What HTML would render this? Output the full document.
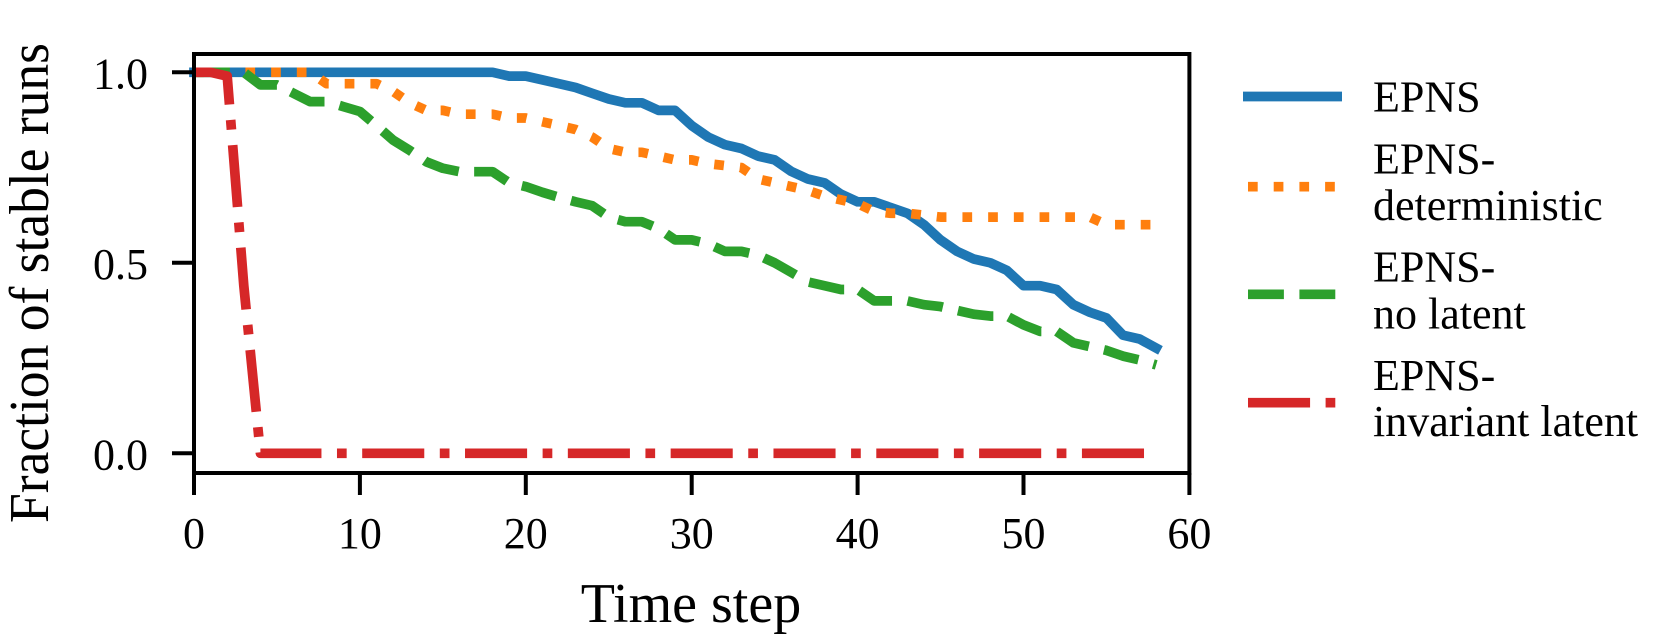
<!DOCTYPE html>
<html><head><meta charset="utf-8"><style>
html,body{margin:0;padding:0;background:#fff}
svg{display:block}
text{font-family:"Liberation Serif",serif;fill:#000}
</style></head><body>
<svg width="1663" height="641" viewBox="0 0 1663 641" id="chart">
<g id="plot"></g>
<g id="axes"></g>
<text x="691" y="622" font-size="56" text-anchor="middle">Time step</text>
<text transform="translate(48,283) rotate(-90)" font-size="56" text-anchor="middle" textLength="480" lengthAdjust="spacingAndGlyphs">Fraction of stable runs</text>
<g id="legend"></g>
</svg>
<script>
const steps = Array.from({length:59},(_,i)=>i);
const epns = [1,1,1,1,1,1,1,1,1,1,1,1,1,1,1,1,1,1,1,
 0.99,0.99,0.98,0.97,0.96,0.945,0.93,0.92,0.92,0.90,0.90,0.86,0.83,0.81,0.80,0.78,0.77,0.74,0.72,0.71,0.68,0.66,0.66,0.645,0.63,0.60,0.56,0.53,0.51,0.50,0.48,0.44,0.44,0.43,0.39,0.37,0.355,0.31,0.30,0.276];
const epnsDet = [1,1,1,1,1,1,1,1,
 0.97,0.97,0.97,0.97,0.95,0.92,0.90,0.90,0.89,0.89,
 0.89,0.88,0.88,0.87,0.86,0.85,0.83,0.80,0.79,0.79,
 0.78,0.77,0.77,0.76,0.755,0.75,0.72,0.71,0.70,0.69,
 0.675,0.665,0.655,0.635,0.63,0.63,0.625,0.62,0.62,0.62,
 0.62,0.62,0.62,0.62,0.62,0.62,0.62,0.60,0.60,0.60,0.60];
const epnsNoLat = [1,1,1,1,0.967,0.967,0.945,0.923,0.923,0.91,
 0.897,0.86,0.822,0.795,0.765,0.748,0.739,0.739,0.739,0.71,
 0.70,0.685,0.672,0.66,0.65,0.62,0.608,0.608,0.59,0.56,
 0.56,0.55,0.53,0.53,0.52,0.50,0.475,0.45,0.44,0.43,
 0.43,0.40,0.40,0.40,0.39,0.385,0.375,0.365,0.36,0.36,
 0.337,0.32,0.32,0.29,0.28,0.27,0.255,0.245,0.232];
const epnsInv = [1,1,0.99,0.44,0,0,0,0,0,0,0,0,0,0,0,0,0,0,0,0,0,0,0,0,0,0,0,0,0,0,0,0,0,0,0,0,0,0,0,0,0,0,0,0,0,0,0,0,0,0,0,0,0,0,0,0,0,0,0];
const xTicks = [0,10,20,30,40,50,60];
const yTicks = [0.0,0.5,1.0];
const yTickLabels = ["0.0","0.5","1.0"];
const seriesNames = ["EPNS","EPNS-|deterministic","EPNS-|no latent","EPNS-|invariant latent"];

const NS="http://www.w3.org/2000/svg";
const X0=194, XS=16.59, Y0=453.3, YS=381;
const xs = t => X0 + t*XS;
const ys = v => Y0 - v*YS;
const LW=9.7;
const styles=[
 {c:"#1f77b4",d:null,name:"line-epns"},
 {c:"#ff7f0e",d:[LW*1,LW*1.65],name:"line-epns-deterministic"},
 {c:"#2ca02c",d:[LW*3.7,LW*1.6],name:"line-epns-no-latent"},
 {c:"#d62728",d:[LW*6.4,LW*1.6,LW*1,LW*1.6],name:"line-epns-invariant-latent"}
];
const data=[epns,epnsDet,epnsNoLat,epnsInv];
const plot=document.getElementById('plot');
data.forEach((arr,k)=>{
  const p=document.createElementNS(NS,'path');
  p.setAttribute('d',arr.map((v,i)=>(i?'L':'M')+xs(steps[i]).toFixed(1)+','+ys(v).toFixed(1)).join(''));
  p.setAttribute('fill','none');
  p.setAttribute('stroke',styles[k].c);
  p.setAttribute('stroke-width',LW);
  p.setAttribute('stroke-linejoin','round');
  p.setAttribute('stroke-linecap',styles[k].d?'butt':'square');
  if(styles[k].d) p.setAttribute('stroke-dasharray',styles[k].d.join(' '));
  
  
  plot.appendChild(p);
});
const axes=document.getElementById('axes');
const frame=document.createElementNS(NS,'rect');
frame.setAttribute('x',194);frame.setAttribute('y',54);
frame.setAttribute('width',xs(60)-194);frame.setAttribute('height',473-54);
frame.setAttribute('fill','none');frame.setAttribute('stroke','#000');frame.setAttribute('stroke-width',4);


axes.appendChild(frame);
xTicks.forEach(t=>{
  const l=document.createElementNS(NS,'line');
  l.setAttribute('x1',xs(t));l.setAttribute('x2',xs(t));l.setAttribute('y1',473);l.setAttribute('y2',495);
  l.setAttribute('stroke','#000');l.setAttribute('stroke-width',4);
  
  
  axes.appendChild(l);
  const tx=document.createElementNS(NS,'text');
  tx.setAttribute('x',xs(t));tx.setAttribute('y',548);tx.setAttribute('font-size',44);tx.setAttribute('text-anchor','middle');
  tx.textContent=String(t);
  
  
  axes.appendChild(tx);
});
yTicks.forEach((v,i)=>{
  const l=document.createElementNS(NS,'line');
  l.setAttribute('x1',172);l.setAttribute('x2',194);l.setAttribute('y1',ys(v));l.setAttribute('y2',ys(v));
  l.setAttribute('stroke','#000');l.setAttribute('stroke-width',4);
  
  
  axes.appendChild(l);
  const tx=document.createElementNS(NS,'text');
  tx.setAttribute('x',148);tx.setAttribute('y',ys(v)+16);tx.setAttribute('font-size',44);tx.setAttribute('text-anchor','end');
  tx.textContent=yTickLabels[i];
  
  
  axes.appendChild(tx);
});
const legend=document.getElementById('legend');
const legY=[96.5,186.7,294.3,402.7];
const legText=[[111.7],[173.3,220],[281.7,328.3],[390,436]];
seriesNames.forEach((nm,k)=>{
  const l=document.createElementNS(NS,'line');
  const x1 = styles[k].d?1248:1243, x2 = styles[k].d?1340:1342;
  l.setAttribute('x1',x1);l.setAttribute('x2',x2);l.setAttribute('y1',legY[k]);l.setAttribute('y2',legY[k]);
  l.setAttribute('stroke',styles[k].c);l.setAttribute('stroke-width',LW);
  if(styles[k].d) l.setAttribute('stroke-dasharray',styles[k].d.join(' '));
  
  
  legend.appendChild(l);
  nm.split('|').forEach((s,j)=>{
    const tx=document.createElementNS(NS,'text');
    tx.setAttribute('x',1373);tx.setAttribute('y',legText[k][j]);tx.setAttribute('font-size',44);
    tx.textContent=s;
    
    
    legend.appendChild(tx);
  });
});
</script>
</body></html>
